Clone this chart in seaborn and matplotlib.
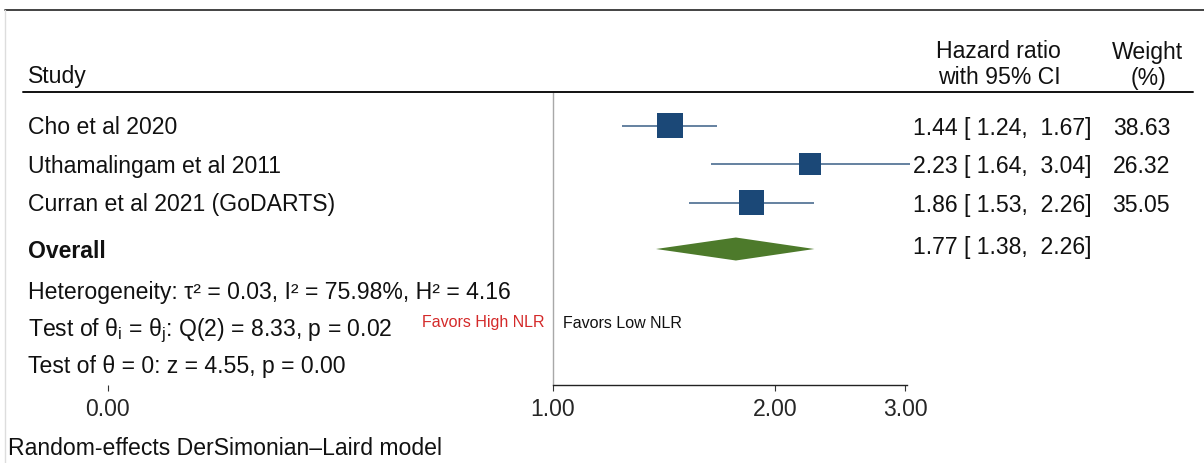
import numpy as np
import pandas as pd
import matplotlib
matplotlib.use("Agg")
import matplotlib.pyplot as plt
import matplotlib.transforms as mtransforms
from matplotlib.lines import Line2D
import seaborn as sns

# ---------------- data ----------------
studies = ["Cho et al 2020", "Uthamalingam et al 2011", "Curran et al 2021 (GoDARTS)"]
hr = [1.44, 2.23, 1.86]
ci_low = [1.24, 1.64, 1.53]
ci_high = [1.67, 3.04, 2.26]
weights = [38.63, 26.32, 35.05]

overall_label = "Overall"
overall_hr = 1.77
overall_low = 1.38
overall_high = 2.26

stats_lines = [
    "Heterogeneity: \u03c4\u00b2 = 0.03, I\u00b2 = 75.98%, H\u00b2 = 4.16",
    "Test of \u03b8$_{i}$ = \u03b8$_{j}$: Q(2) = 8.33, p = 0.02",
    "Test of \u03b8 = 0: z = 4.55, p = 0.00",
]
tick_values = [0.25, 1, 2, 3]
tick_labels = ["0.00", "1.00", "2.00", "3.00"]
favors_left = "Favors High NLR"
favors_right = "Favors Low NLR"
model_note = "Random-effects DerSimonian\u2013Laird model"

# ---------------- style ----------------
sns.set_style("white")
plt.rcParams["font.family"] = ["Liberation Sans", "DejaVu Sans"]
plt.rcParams["mathtext.default"] = "regular"

W, H = 1204, 463
fig = plt.figure(figsize=(W / 100, H / 100), dpi=100)
ax = fig.add_axes([0, 0, 1, 1])
ax.patch.set_alpha(0)

# log scale: x=1 at pixel 552.6, 321 px per ln unit
x_one = 552.6
px_per_ln = 321.0
ax.set_xscale("log")
ax.set_xlim(np.exp(-x_one / px_per_ln), np.exp((W - x_one) / px_per_ln))
ax.set_ylim(H, 0)  # y in figure pixels (layout)

# pixel transform for layout text/lines
pxT = mtransforms.Affine2D().scale(1 / W, -1 / H).translate(0, 1) + fig.transFigure

FS = 16.6
BLUE = "#1b4877"
WHISK = "#3a5f86"
GREEN = "#4d7a2b"

# row layout (pixel y centers / baselines)
row_y = [125.5, 164.0, 202.5]
row_base = [134.5, 173.0, 211.5]
overall_y = 249.0
axis_y = 385.0
header_y = 92.0

df = pd.DataFrame({"study": studies, "hr": hr, "lo": ci_low, "hi": ci_high,
                   "w": weights, "y": row_y})

# frame lines
fig.add_artist(Line2D([5, W], [10, 10], transform=pxT, color="#222222", lw=1.2))
fig.add_artist(Line2D([5, 5], [10, H], transform=pxT, color="#dddddd", lw=1.0))
# header rule
fig.add_artist(Line2D([23, 1193], [header_y, header_y], transform=pxT, color="#111111", lw=1.4))

# reference line at HR = 1
ax.vlines(1, header_y, axis_y, color="#a8a8a8", lw=1.0, zorder=1)

# CI whiskers
ax.hlines(df["y"], df["lo"], df["hi"], color=WHISK, lw=1.1, zorder=2)

# weighted squares
s_max = 350.0
sizes = (s_max * min(weights) / max(weights), s_max)
sns.scatterplot(data=df, x="hr", y="y", size="w", sizes=sizes, marker="s",
                color=BLUE, linewidth=0, legend=False, ax=ax, zorder=3)

# overall diamond
dh = 11.5
ax.fill([overall_low, overall_hr, overall_high, overall_hr],
        [overall_y, overall_y - dh, overall_y, overall_y + dh],
        color=GREEN, lw=0, zorder=3)

# x axis
for s in ["top", "left", "right"]:
    ax.spines[s].set_visible(False)
ax.spines["bottom"].set_position(("data", axis_y))
ax.spines["bottom"].set_bounds(1, 3.02)
ax.spines["bottom"].set_color("#222222")
ax.spines["bottom"].set_linewidth(1.0)
ax.set_xticks(tick_values)
ax.set_xticklabels(tick_labels)
ax.xaxis.set_minor_locator(matplotlib.ticker.NullLocator())
ax.tick_params(axis="x", which="major", direction="out", length=4.5, width=0.8,
               color="#333333", labelsize=FS, pad=5, bottom=True)
ax.set_yticks([])
ax.set_xlabel("")
ax.set_ylabel("")

# ---------------- texts ----------------
def T(x, y, s, **kw):
    kw.setdefault("fontsize", FS)
    kw.setdefault("va", "baseline")
    kw.setdefault("color", "#111111")
    fig.text(x / W, 1 - y / H, s, **kw)

T(28, 83.5, "Study")
T(998, 58.5, "Hazard ratio", ha="center")
T(999, 84.5, "with 95% CI", ha="center")
T(1147, 58.5, "Weight", ha="center")
T(1148, 84.5, "(%)", ha="center")

for name, b, h_, lo, hi, w in zip(studies, row_base, hr, ci_low, ci_high, weights):
    T(28, b, name)
    T(1091.5, b + 0.5, f"{h_:.2f} [ {lo:.2f},  {hi:.2f}]", ha="right")
    T(1170, b + 0.5, f"{w:.2f}", ha="right")

T(28, 258.5, overall_label, fontweight="bold")
T(1091.5, 254.0, f"{overall_hr:.2f} [ {overall_low:.2f},  {overall_high:.2f}]", ha="right")

for s, b in zip(stats_lines, [298.5, 336.0, 373.5]):
    T(28, b, s)

T(545, 327.5, favors_left, ha="right", fontsize=11.5, color="#d42a2a")
T(563, 327.5, favors_right, ha="left", fontsize=11.5)

T(7.5, 455.0, model_note)

fig.savefig("out.png", dpi=100, facecolor="white")
